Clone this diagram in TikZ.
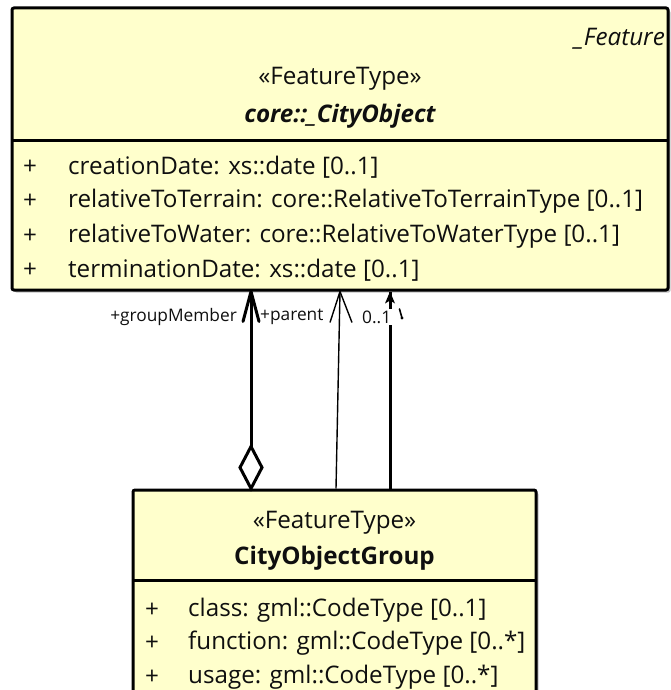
\documentclass[tikz,border=0pt]{standalone}
\usepackage{fontspec}
\setmainfont{Open Sans}
\usetikzlibrary{shadows}
\definecolor{boxfill}{RGB}{255,255,204}
\definecolor{txt}{RGB}{15,15,15}
\newcommand{\mainsize}{\fontsize{24.2}{28}\selectfont}
\begin{document}
\begin{tikzpicture}[x=1pt,y=-1pt,
  classbox/.style={draw=black, line width=3pt, fill=boxfill, rounded corners=2pt, inner sep=0pt,
    drop shadow={shadow xshift=2.5pt, shadow yshift=-2.5pt, fill=black!40, opacity=0.6}},
  divider/.style={line width=3pt},
  attr/.style={anchor=west, inner sep=0pt, text=txt, font=\mainsize},
  plus/.style={anchor=center, inner sep=0pt, text=txt, font=\mainsize},
  stereo/.style={anchor=center, inner sep=0pt, text=txt, font=\mainsize},
  role/.style={inner sep=1pt, text=txt, font=\fontsize{17.3}{20}\selectfont},
  thickline/.style={line width=3pt},
  thinline/.style={line width=1.4pt}]
\useasboundingbox (0,0) rectangle (671,690);

% top class
\node[classbox, minimum width=656pt, minimum height=282pt] (top) at (340,149) {};
\coordinate (tl) at (12,140); \coordinate (tr) at (668,140);
\draw[divider] (tl) -- (tr);
\node[stereo, anchor=east, font=\itshape\mainsize] (featlbl) at (665,39) {\_Feature};
\node[stereo] (tst) at (340,79) {«FeatureType»};
\node[stereo, font=\bfseries\itshape\mainsize] (tname) at (340,116) {core::\_CityObject};
\node[plus] (tp1) at (30,167) {+};
\node[attr] (ta1) at (68,167) {creationDate: xs::date [0..1]};
\node[plus] (tp2) at (30,201.5) {+};
\node[attr] (ta2) at (68,201.5) {relativeToTerrain: core::RelativeToTerrainType [0..1]};
\node[plus] (tp3) at (30,236) {+};
\node[attr] (ta3) at (68,236) {relativeToWater: core::RelativeToWaterType [0..1]};
\node[plus] (tp4) at (30,270.5) {+};
\node[attr] (ta4) at (68,270.5) {terminationDate: xs::date [0..1]};

% bottom class
\node[classbox, minimum width=403pt, minimum height=260pt] (bot) at (334.5,620) {};
\coordinate (bl) at (133,580); \coordinate (br) at (536,580);
\draw[divider] (bl) -- (br);
\node[stereo] (bst) at (334.5,523) {«FeatureType»};
\node[stereo, font=\bfseries\mainsize] (bname) at (334.5,558) {CityObjectGroup};
\node[plus] (bp1) at (152,610) {+};
\node[attr] (ba1) at (188,610) {class: gml::CodeType [0..1]};
\node[plus] (bp2) at (152,643.5) {+};
\node[attr] (ba2) at (188,643.5) {function: gml::CodeType [0..*]};
\node[plus] (bp3) at (152,677) {+};
\node[attr] (ba3) at (188,677) {usage: gml::CodeType [0..*]};

% connector x positions
\coordinate (gmx) at (251,0);
\coordinate (pbx) at (336,0);
\coordinate (ptx) at (340,0);
\coordinate (zx) at (390,0);

% groupMember aggregation
\coordinate (gmb) at (bot.north -| gmx);
\coordinate (gmt) at (top.south -| gmx);
\draw[thickline] (gmb) ++(0,-42) -- (gmt);
\draw[thickline, fill=white, line join=miter] (gmb) -- ++(-11,-21) -- ++(11,-21) -- ++(11,21) -- cycle;
\draw[thickline, line join=round, line cap=round] (gmt) ++(-8,30) -- (gmt) -- ++(8,30);
\node[role, anchor=east] (rgm) at (238,317) {+groupMember};

% parent association
\coordinate (pb) at (bot.north -| pbx);
\coordinate (pt) at (top.south -| ptx);
\draw[thinline] (pb) -- (pt);
\draw[thinline, line join=round] (pt) ++(-10,31) -- (pt) -- ++(12,31);
\node[role, anchor=west] (rpa) at (259,317) {+parent};

% 0..1 association
\coordinate (zb) at (bot.north -| zx);
\coordinate (zt) at (top.south -| zx);
\draw[thickline] (zb) -- (zt);
\fill (zt) -- ++(-5,12) -- ++(5,-3) -- ++(5,3) -- cycle;
\node[role, anchor=west, fill=white, inner sep=2pt] (rz) at (360,317) {0..1};
\coordinate (tk1) at (399.5,309); \coordinate (tk2) at (402,318);
\draw[line width=1.6pt, line cap=round] (tk1) -- (tk2);
\fill (tk2) circle (1.6);
\end{tikzpicture}
\end{document}
